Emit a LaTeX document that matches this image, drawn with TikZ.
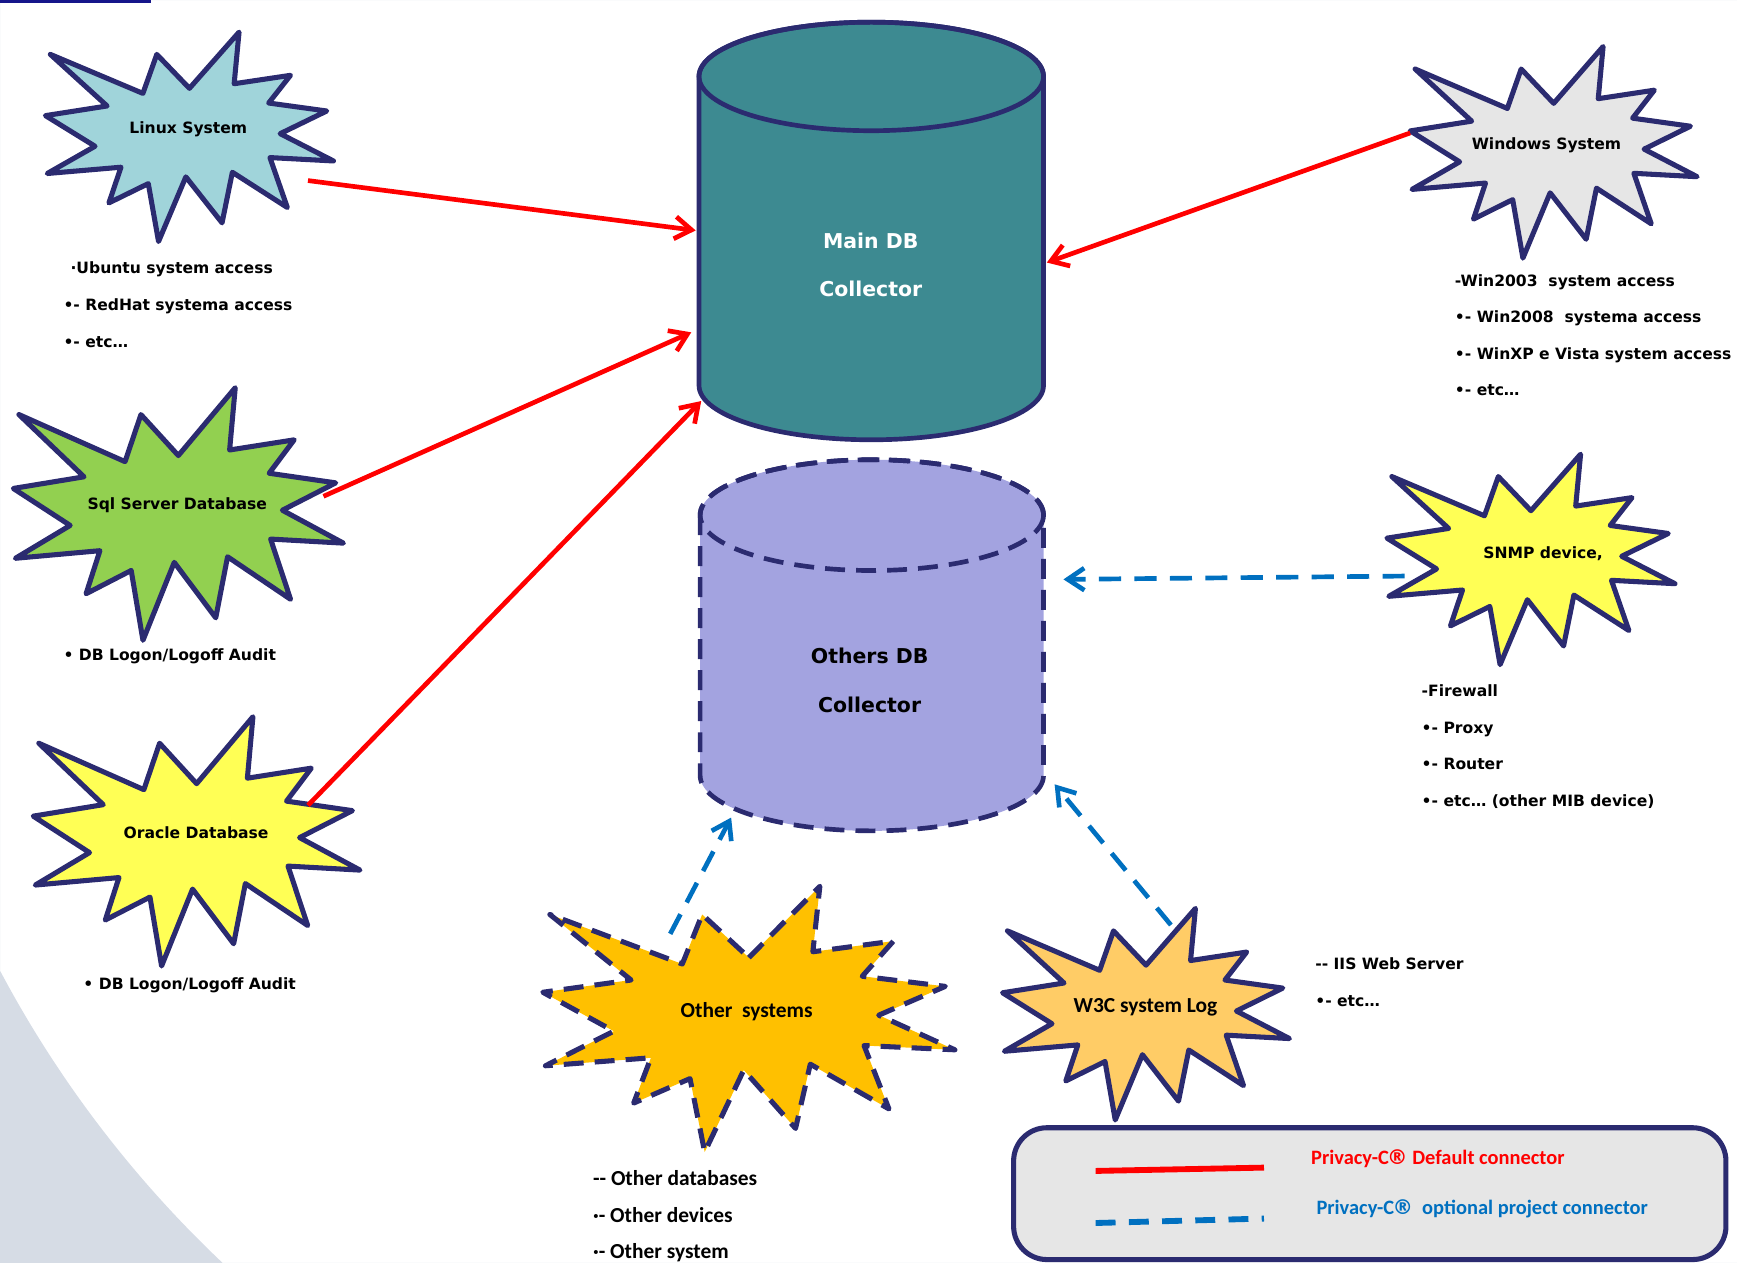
\documentclass[tikz,border=0pt]{standalone}
\usepackage{fontspec}
\setmainfont{DejaVu Sans}
\newfontfamily\calib{Carlito}[BoldFont={Carlito Bold}]
\newfontfamily\dejavu{DejaVu Sans}
\usetikzlibrary{arrows.meta}

\definecolor{burstline}{HTML}{2B2B70}
\definecolor{topbar}{HTML}{16168A}
\definecolor{linuxfill}{HTML}{A0D4DA}
\definecolor{sqlfill}{HTML}{92D050}
\definecolor{yellowfill}{HTML}{FFFF55}
\definecolor{winfill}{HTML}{E6E6E6}
\definecolor{otherfill}{HTML}{FFC000}
\definecolor{wthreefill}{HTML}{FFCC66}
\definecolor{maindbfill}{HTML}{3D8A91}
\definecolor{othersdbfill}{HTML}{A3A3E0}
\definecolor{defred}{HTML}{FF0000}
\definecolor{optblue}{HTML}{0070C0}
\definecolor{swoosh}{HTML}{D6DCE5}
\definecolor{legendfill}{HTML}{E6E6E6}

\newcommand{\regmark}{\kern-0.08em{\dejavu\bfseries ®}}

\tikzset{
  burst/.pic={
    \path[pic actions] (0.5,0.2685) -- (0.6723,0) -- (0.6553,0.2465) -- (0.8509,0.2063)
      -- (0.7751,0.3386) -- (0.9767,0.3767) -- (0.8151,0.4850) -- (1,0.6153)
      -- (0.7795,0.5992) -- (0.84,0.8377) -- (0.6491,0.6693) -- (0.6133,0.911)
      -- (0.4876,0.6914) -- (0.3928,1) -- (0.3572,0.7235) -- (0.2205,0.8156)
      -- (0.2624,0.6452) -- (0.00625,0.6753) -- (0.1723,0.5451) -- (0,0.3988)
      -- (0.2142,0.3527) -- (0.0171,0.1063) -- (0.3385,0.2926) -- (0.3867,0.1063) -- cycle;
  },
  burstbox/.style={draw=burstline, line width=2.6pt, line join=round},
  dashbox/.style={burstbox, dash pattern=on 3.6mm off 2mm},
  dbbody/.style={draw=burstline, line width=2.4pt},
  tip/.style={-{Straight Barb[length=3mm,width=4mm]}},
  defconn/.style={draw=defred, line width=2.4pt, tip},
  optconn/.style={draw=optblue, line width=2.4pt, dash pattern=on 4mm off 2.4mm, tip},
  note/.style={anchor=west, align=left, inner xsep=0pt, font=\bfseries\fontsize{8}{18.8}\selectfont}
}

\begin{document}
\begin{tikzpicture}[x=0.2mm, y=-0.2mm]
  \useasboundingbox (0,0) rectangle (1568,1140);

  % background
  \begin{scope}
    \clip (0,0) rectangle (1568,1140);
    \fill[swoosh, even odd rule] (0,0) rectangle (1568,1140) (900,400) circle [radius=1018];
  \end{scope}
  \fill[topbar] (0,0) rectangle (136,2.5);

  % databases
  \path[dbbody, fill=maindbfill] (631,69) -- (631,348)
    arc[start angle=180, end angle=0, x radius=155.5, y radius=49] -- (942,69)
    arc[start angle=0, end angle=-180, x radius=155.5, y radius=49] -- cycle;
  \draw[dbbody] (786.5,69) ellipse [x radius=155.5, y radius=49];

  \path[dbbody, dash pattern=on 3.6mm off 2mm, fill=othersdbfill] (632,465) -- (632,700)
    arc[start angle=180, end angle=0, x radius=155, y radius=50] -- (942,465)
    arc[start angle=0, end angle=-180, x radius=155, y radius=50] -- cycle;
  \draw[dbbody, dash pattern=on 3.6mm off 2mm] (787,465) ellipse [x radius=155, y radius=50];

  \begin{scope}[every node/.style={align=center, font=\bfseries\fontsize{10.5}{25}\selectfont}]
    \node[text=white] (maindb)   at (786,239) {Main DB\\Collector};
    \node             (othersdb) at (785,614) {Others DB\\Collector};
  \end{scope}

  % sources
  \pic[burstbox, fill=linuxfill,  xscale=260, yscale=189] at (41,29)    {burst};
  \pic[burstbox, fill=sqlfill,    xscale=298, yscale=228] at (12,350)   {burst};
  \pic[burstbox, fill=yellowfill, xscale=295, yscale=225] at (30,647)   {burst};
  \pic[burstbox, fill=winfill,    xscale=259, yscale=191] at (1273,42)  {burst};
  \pic[burstbox, fill=yellowfill, xscale=260, yscale=190] at (1252,410) {burst};
  \pic[dashbox,  fill=otherfill,  xscale=372, yscale=240] at (490,800)  {burst};
  \pic[burstbox, fill=wthreefill, xscale=259, yscale=191] at (905,820)  {burst};

  \begin{scope}[every node/.style={font=\bfseries\fontsize{8}{10}\selectfont}]
    \node (linux)   at (170,117)  {Linux System};
    \node (sql)     at (160,456)  {Sql Server Database};
    \node (oracle)  at (177,752)  {Oracle Database};
    \node (windows) at (1396,131) {Windows System};
    \node (snmp)    at (1393,500) {SNMP device,};
  \end{scope}
  \begin{scope}[every node/.style={font=\calib\bfseries\fontsize{11}{12}\selectfont}]
    \node (other)  at (674,913)  {Other\ \ systems};
    \node (wthree) at (1034,909) {W3C system Log};
  \end{scope}

  % notes
  \node[note] (linuxnotes)  at (57,275)    {\hspace*{0.45em}·Ubuntu system access\\•- RedHat systema access\\•- etc…};
  \node[note] (sqlnotes)    at (57,592)    {• DB Logon/Logoff Audit};
  \node[note] (oraclenotes) at (75,889)    {• DB Logon/Logoff Audit};
  \node[note] (winnotes)    at (1313,302.5) {-Win2003\ \ system access\\•- Win2008\ \ systema access\\•- WinXP e Vista system access\\•- etc…};
  \node[note] (snmpnotes)   at (1283,674)  {-Firewall\\•- Proxy\\•- Router\\•- etc… (other MIB device)};
  \node[note] (wthreenotes) at (1187,886.5) {-{}- IIS Web Server\\•- etc…};
  \node[note, font=\calib\bfseries\fontsize{11}{18.8}\selectfont] (othernotes) at (535,1098) {-{}- Other databases\\·- Other devices\\·- Other system};

  % connectors
  \coordinate (linuxout)  at (278,163);
  \coordinate (sqlout)    at (292,448);
  \coordinate (oracleout) at (278,727);
  \coordinate (winout)    at (1273,120);
  \coordinate (snmpout)   at (1268,520);
  \coordinate (otherout)  at (605,843);
  \coordinate (wthreeout) at (1057,835);
  \coordinate (mainin1) at (628,208);
  \coordinate (mainin2) at (624,300);
  \coordinate (mainin3) at (633,362);
  \coordinate (mainin4) at (945,237);
  \coordinate (othin1)  at (960,523);
  \coordinate (othin2)  at (660,738);
  \coordinate (othin3)  at (952,708);

  \path (linuxout)  edge[defconn] (mainin1);
  \path (sqlout)    edge[defconn] (mainin2);
  \path (oracleout) edge[defconn] (mainin3);
  \path (winout)    edge[defconn] (mainin4);
  \path (snmpout)   edge[optconn] (othin1);
  \path (otherout)  edge[optconn] (othin2);
  \path (wthreeout) edge[optconn] (othin3);

  % legend
  \node[draw=burstline, fill=legendfill, line width=2.6pt, rounded corners=6mm,
        minimum width=128.6mm, minimum height=23.8mm] (legend) at (1236.5,1077.5) {};
  \coordinate (reda) at (989,1057);
  \coordinate (redb) at (1141,1054);
  \coordinate (bluea) at (989,1104);
  \coordinate (blueb) at (1141,1100);
  \draw[defred, line width=3pt] (reda) -- (redb);
  \draw[optblue, line width=3pt, dash pattern=on 3.6mm off 2.4mm] (bluea) -- (blueb);
  \begin{scope}[every node/.style={font=\calib\bfseries\fontsize{10.5}{12}\selectfont}]
    \node[text=defred]  (deflabel) at (1298,1046) {Privacy-C\regmark{} Default connector};
    \node[text=optblue] (optlabel) at (1338,1091) {Privacy-C\regmark\ \ optional project connector};
  \end{scope}

\end{tikzpicture}
\end{document}
